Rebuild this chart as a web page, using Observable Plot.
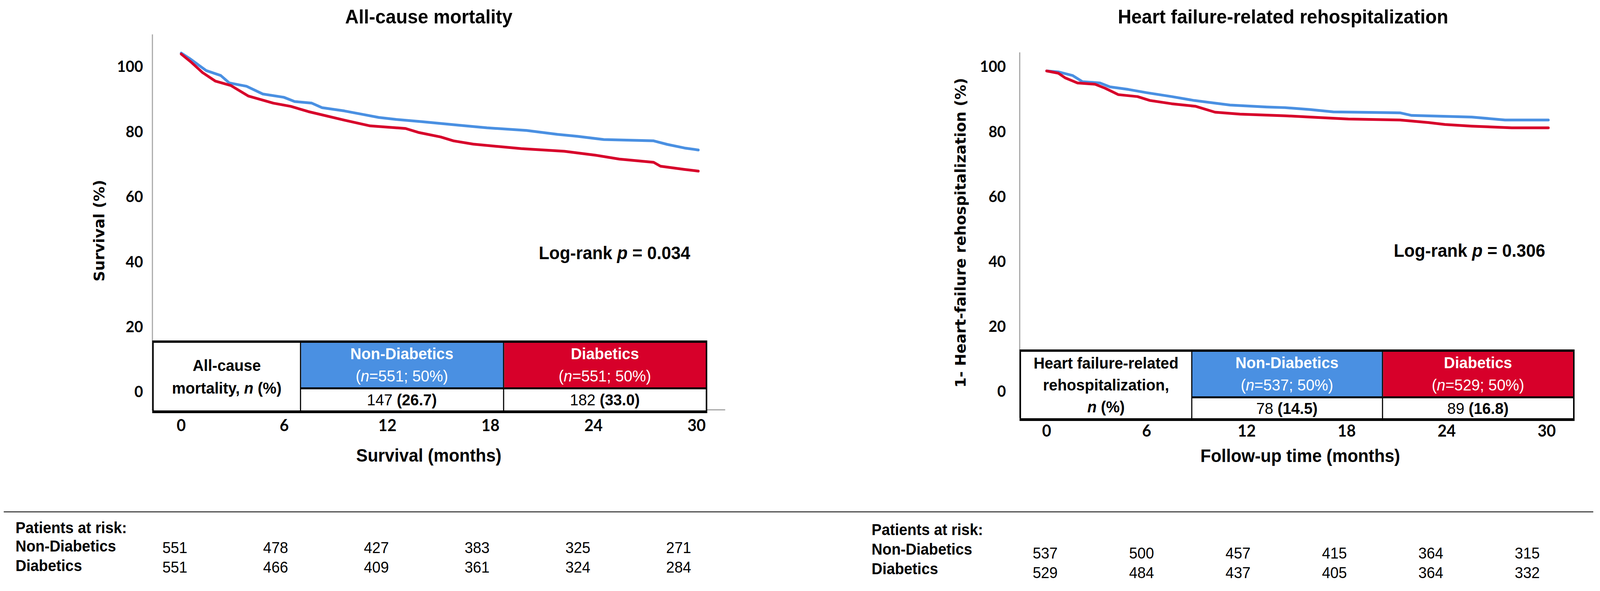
<!DOCTYPE html>
<html>
<head>
<meta charset="utf-8">
<script src="https://cdn.jsdelivr.net/npm/d3@7"></script>
<script src="https://cdn.jsdelivr.net/npm/@observablehq/plot@0.6"></script>
<style>
  html, body { margin: 0; background: #fff; overflow: hidden; }
  #page { position: relative; width: 4278px; height: 1512px; overflow: hidden; background: #fff;
          font-family: "Liberation Sans", Arial, sans-serif; color: #000; transform-origin: 0 0; }
  .slot { position: absolute; }
  table.ev { position: absolute; border-collapse: collapse; table-layout: fixed;
             font-family: "Liberation Sans", Arial, sans-serif; font-size: 41px;
             border-top: 6px solid #000; border-bottom: 7px solid #000;
             border-left: 4px solid #000; border-right: 4px solid #000; }
  table.ev td { border: 3px solid #000; padding: 0; text-align: center; vertical-align: middle;
                white-space: nowrap; overflow: hidden; }
  table.ev td.lab { font-weight: bold; background: #fff; }
  table.ev td.hd { color: #fff; line-height: 57px; border-bottom: 5px solid #000; }
  table.ev td.hd .g { font-weight: bold; }
  table.ev td.val { background: #fff; line-height: 50px; }
  .sep { position: absolute; left: 10px; top: 1308px; width: 4250px; height: 3px; background: #4a4a4a; }
</style>
</head>
<body>
<div id="page"></div>
<script>
// ---------------- DATA ----------------
const groups = ["Non-Diabetics", "Diabetics"];
const groupColors = ["#4a90e2", "#d7002a"];
const monthTicks = [0, 6, 12, 18, 24, 30];
const percentTicks = [0, 20, 40, 60, 80, 100];

const panelTitles = ["All-cause mortality", "Heart failure-related rehospitalization"];
const yTitles = ["Survival (%)", "1- Heart-failure rehospitalization (%)"];
const xTitles = ["Survival (months)", "Follow-up time (months)"];
const logRankP = ["0.034", "0.306"];

// All-cause mortality (Kaplan-Meier)
const mortNonDiabMonths = [0, 0.5, 1.04, 1.46, 2.3, 2.8, 3.8, 4.75, 5.97, 6.6, 7.6, 8.2, 9.5, 10.5, 11.5, 12.5, 14.0, 16.2, 17.8, 20.1, 21.9, 23.06, 24.6, 27.5, 28.3, 29.3, 30.1];
const mortNonDiabSurv   = [104.3, 102.6, 100.5, 98.9, 97.4, 95.1, 94.1, 91.7, 90.7, 89.4, 88.9, 87.5, 86.5, 85.5, 84.5, 83.9, 83.2, 82.1, 81.3, 80.5, 79.3, 78.7, 77.7, 77.3, 76.2, 75.1, 74.5];
const mortDiabMonths = [0, 0.6, 1.24, 1.98, 2.9, 3.9, 5.36, 6.38, 7.4, 9.47, 11.0, 13.06, 13.8, 15.1, 15.85, 17.0, 19.8, 22.3, 24.1, 25.5, 27.5, 27.9, 29.3, 30.1];
const mortDiabSurv   = [104.0, 101.4, 98.3, 95.7, 94.3, 91.1, 88.9, 87.9, 86.3, 83.7, 81.9, 81.1, 79.9, 78.5, 77.3, 76.3, 74.9, 74.1, 72.9, 71.7, 70.7, 69.5, 68.5, 68.0];

// Heart failure-related rehospitalization (1 - cumulative incidence)
const hfNonDiabMonths = [0, 0.7, 1.55, 2.15, 3.2, 3.8, 4.9, 6.0, 7.5, 8.85, 11.0, 13.2, 14.3, 15.8, 17.2, 21.2, 21.9, 25.5, 27.5, 30.1];
const hfNonDiabFree   = [98.8, 98.5, 97.4, 95.5, 95.1, 93.9, 93.1, 92.1, 90.9, 89.7, 88.3, 87.7, 87.5, 86.9, 86.2, 85.9, 85.1, 84.6, 83.7, 83.7];
const hfDiabMonths = [0, 0.7, 1.1, 1.85, 2.9, 3.5, 4.3, 5.45, 6.2, 7.5, 8.95, 10.1, 11.6, 14.3, 15.8, 18.1, 21.2, 22.9, 23.9, 25.5, 27.9, 30.1];
const hfDiabFree   = [98.8, 98.1, 96.7, 95.1, 94.7, 93.5, 91.5, 90.9, 89.7, 88.7, 87.9, 86.1, 85.5, 85.0, 84.6, 84.0, 83.7, 82.9, 82.3, 81.8, 81.3, 81.3];

// Summary tables
const mortTableLabel = ["All-cause", "mortality, <i>n</i> (%)"];
const mortN = [551, 551];
const mortShare = [50, 50];
const mortEvents = [147, 182];
const mortEventPct = ["26.7", "33.0"];

const hfTableLabel = ["Heart failure-related", "rehospitalization,", "<i>n</i> (%)"];
const hfN = [537, 529];
const hfShare = [50, 50];
const hfEvents = [78, 89];
const hfEventPct = ["14.5", "16.8"];

// Patients at risk
const riskTitle = "Patients at risk:";
const riskMonths = [0, 6, 12, 18, 24, 30];
const mortRiskNonDiab = [551, 478, 427, 383, 325, 271];
const mortRiskDiab    = [551, 466, 409, 361, 324, 284];
const hfRiskNonDiab   = [537, 500, 457, 415, 364, 315];
const hfRiskDiab      = [529, 484, 437, 405, 364, 332];

// ---------------- BUILD ----------------
const page = document.getElementById("page");
const SANS = "Liberation Sans, Arial, sans-serif";

// the window may be narrower than the 4278px design: fit the width
const fitX = Math.min(1, window.innerWidth / 4278);
page.style.transform = `scale(${fitX}, 1)`;

function series(g, months, vals) { return months.map((m, i) => ({group: g, month: m, value: vals[i]})); }

function curvePanel(cfg) {
  const rows = [
    ...series(groups[0], cfg.nonMonths, cfg.nonVals),
    ...series(groups[1], cfg.diabMonths, cfg.diabVals)
  ];
  const H = 1240;
  const plot = Plot.plot({
    width: 2139, height: H,
    marginLeft: cfg.frame[0], marginRight: 2139 - cfg.frame[1],
    marginTop: cfg.frame[2], marginBottom: H - cfg.frame[3],
    x: {domain: [0, 30], range: cfg.xRange, axis: null},
    y: {domain: [0, 100], range: cfg.yRange, axis: null},
    color: {domain: groups, range: groupColors},
    style: {background: "transparent", overflow: "visible", fontFamily: SANS, color: "#000"},
    marks: [
      Plot.frame({anchor: "left", stroke: "#a6a6a6", strokeWidth: 3}),
      Plot.frame({anchor: "bottom", stroke: "#a6a6a6", strokeWidth: 3}),
      Plot.axisY({ticks: percentTicks, tickSize: 0, tickPadding: cfg.yPad, label: null,
                  fontSize: 40, fontWeight: "bold", fontFamily: "Lato", fill: "#000"}),
      Plot.axisX({ticks: monthTicks, tickSize: 0, tickPadding: cfg.xPad, label: null,
                  fontSize: 42, fontWeight: "bold", fontFamily: "Lato", fill: "#000"}),
      Plot.line(rows, {x: "month", y: "value", z: "group", stroke: "group", strokeWidth: 7,
                       curve: "linear", strokeLinejoin: "round"}),
      Plot.text([cfg.title], {text: d => d, frameAnchor: "top", lineAnchor: "middle", textAnchor: "middle",
                              dx: cfg.titleD[0], dy: cfg.titleD[1],
                              fontSize: 50, fontWeight: "bold", fill: "#000"}),
      Plot.text([cfg.yTitle], {text: d => d, frameAnchor: "left", lineAnchor: "middle", textAnchor: "middle",
                               dx: cfg.yTitleD[0], dy: cfg.yTitleD[1],
                               rotate: -90, fontSize: 38, fontWeight: "bold", fontFamily: "DejaVu Sans", fill: "#000"}),
      Plot.text([cfg.xTitle], {text: d => d, frameAnchor: "bottom", lineAnchor: "middle", textAnchor: "middle",
                               dx: cfg.xTitleD[0], dy: cfg.xTitleD[1],
                               fontSize: 46, fontWeight: "bold", fill: "#000"}),
      Plot.text(["Log-rank p = " + cfg.p], {text: d => d, frameAnchor: "right", textAnchor: "end", lineAnchor: "middle",
                               dx: cfg.pD[0], dy: cfg.pD[1], fontSize: 46, fontWeight: "bold", fill: "#000"})
    ]
  });
  plot.querySelectorAll("text").forEach(t => {
    if (t.textContent === "Log-rank p = " + cfg.p) {
      t.innerHTML = 'Log-rank <tspan font-style="italic">p</tspan> = ' + cfg.p;
    }
  });
  const slot = document.createElement("div");
  slot.className = "slot";
  slot.style.left = cfg.left + "px"; slot.style.top = "0px"; slot.style.width = "2139px";
  slot.appendChild(plot);
  page.appendChild(slot);
}

function eventTable(cfg) {
  const t = document.createElement("table");
  t.className = "ev";
  t.style.left = cfg.box[0] + "px"; t.style.top = cfg.box[1] + "px";
  t.style.width = cfg.box[2] + "px"; t.style.height = cfg.box[3] + "px";
  const cols = cfg.colW.map(w => `<col style="width:${w}px">`).join("");
  const head = groups.map((g, i) =>
    `<td class="hd" style="background:${groupColors[i]}"><div class="g">${g}</div><div>(<i>n</i>=${cfg.n[i]}; ${cfg.share[i]}%)</div></td>`).join("");
  const vals = groups.map((g, i) => `<td class="val">${cfg.events[i]} <b>(${cfg.pct[i]})</b></td>`).join("");
  t.innerHTML = `<colgroup>${cols}</colgroup>
    <tr style="height:${cfg.rowH[0]}px"><td class="lab" rowspan="2" style="line-height:${cfg.labLH}px">${cfg.label.join("<br>")}</td>${head}</tr>
    <tr style="height:${cfg.rowH[1]}px">${vals}</tr>`;
  page.appendChild(t);
}

function riskPanel(cfg) {
  const rows = [
    ...riskMonths.map((m, i) => ({group: groups[0], month: m, n: cfg.non[i]})),
    ...riskMonths.map((m, i) => ({group: groups[1], month: m, n: cfg.diab[i]}))
  ];
  const plot = Plot.plot({
    width: 2139, height: 212, margin: 0,
    x: {domain: [0, 30], range: cfg.xRange, axis: null},
    y: {type: "point", domain: groups, range: cfg.yRange, padding: 0, axis: null},
    style: {background: "transparent", overflow: "visible", fontFamily: SANS, color: "#000"},
    marks: [
      Plot.text([riskTitle], {text: d => d, frameAnchor: "top-left", textAnchor: "start", lineAnchor: "middle",
                              dx: cfg.labX, dy: cfg.titleY, fontSize: 40, fontWeight: "bold", fill: "#000"}),
      Plot.text(groups, {text: d => d, y: d => d, frameAnchor: "left", textAnchor: "start", lineAnchor: "middle",
                         dx: cfg.labX, dy: cfg.labDy, fontSize: 40, fontWeight: "bold", fill: "#000"}),
      Plot.text(rows, {x: "month", y: "group", text: "n", fontSize: 40, fill: "#000"})
    ]
  });
  const slot = document.createElement("div");
  slot.className = "slot";
  slot.style.left = cfg.left + "px"; slot.style.top = "1300px"; slot.style.width = "2139px";
  slot.appendChild(plot);
  page.appendChild(slot);
}

// Left panel
curvePanel({
  left: 0, frame: [407, 1937, 89, 1048], xRange: [484, 1862], yRange: [1003, 171],
  yPad: 25, xPad: 25,
  nonMonths: mortNonDiabMonths, nonVals: mortNonDiabSurv, diabMonths: mortDiabMonths, diabVals: mortDiabSurv,
  title: panelTitles[0], titleD: [-26, -46],
  yTitle: yTitles[0], yTitleD: [-141, 21],
  xTitle: xTitles[0], xTitleD: [-26, 118],
  p: logRankP[0], pD: [-92, 79]
});
// Right panel
curvePanel({
  left: 2139, frame: [587, 2067, 135, 1067], xRange: [659, 1996], yRange: [1002, 171],
  yPad: 37, xPad: 20,
  nonMonths: hfNonDiabMonths, nonVals: hfNonDiabFree, diabMonths: hfDiabMonths, diabVals: hfDiabFree,
  title: panelTitles[1], titleD: [-36, -92],
  yTitle: yTitles[1], yTitleD: [-157, -6],
  xTitle: xTitles[1], xTitleD: [10, 100],
  p: logRankP[1], pD: [-75, 41]
});

eventTable({box: [407, 871, 1480, 174], colW: [394, 543, 543], rowH: [114, 60], labLH: 58,
            label: mortTableLabel, n: mortN, share: mortShare, events: mortEvents, pct: mortEventPct});
eventTable({box: [2726, 894, 1480, 171], colW: [458, 510, 512], rowH: [114, 57], labLH: 56,
            label: hfTableLabel, n: hfN, share: hfShare, events: hfEvents, pct: hfEventPct});

const sep = document.createElement("div"); sep.className = "sep"; page.appendChild(sep);

riskPanel({left: 0, xRange: [467, 1814], yRange: [102, 152], labX: 41, titleY: 51, labDy: -4,
           non: mortRiskNonDiab, diab: mortRiskDiab});
riskPanel({left: 2139, xRange: [655, 1944], yRange: [116, 166], labX: 191, titleY: 56, labDy: -10,
           non: hfRiskNonDiab, diab: hfRiskDiab});
</script>
</body>
</html>
